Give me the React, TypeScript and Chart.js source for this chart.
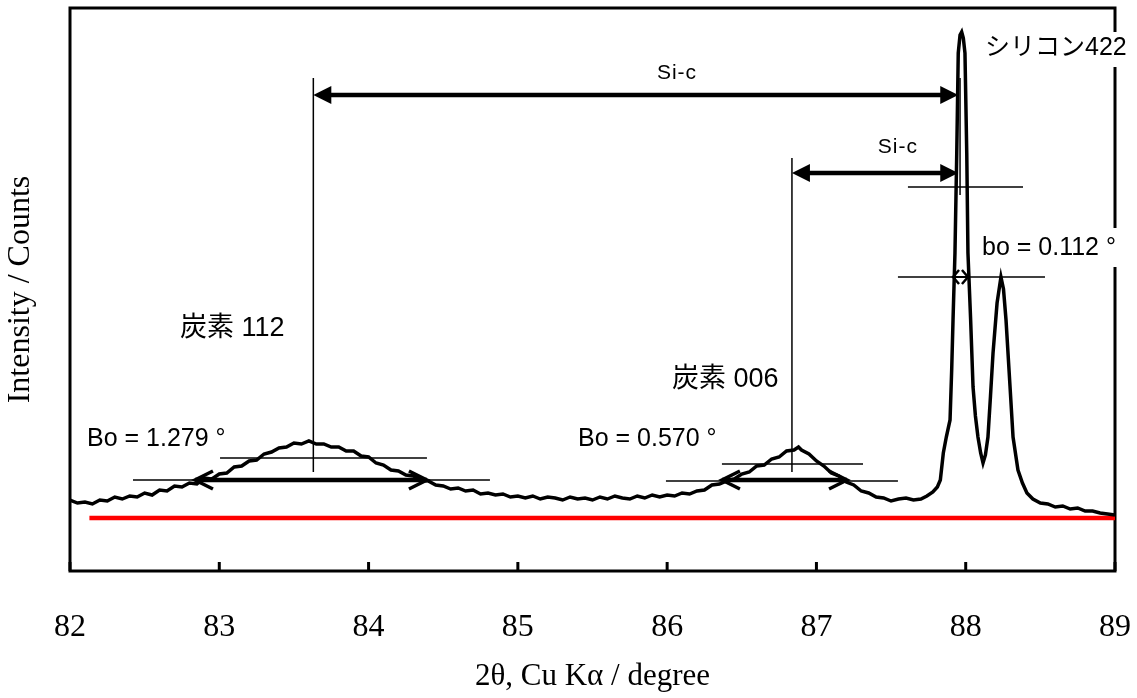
import React, { useEffect, useRef } from "react";
import { Chart, registerables } from "chart.js";

Chart.register(...registerables);

// ---- Data ----
const twoTheta = [
  82.00, 82.05, 82.10, 82.15, 82.20, 82.25, 82.30, 82.35, 82.40, 82.45,
  82.50, 82.55, 82.60, 82.65, 82.70, 82.75, 82.80, 82.85, 82.90, 82.95,
  83.00, 83.05, 83.10, 83.15, 83.20, 83.25, 83.30, 83.35, 83.40, 83.45,
  83.50, 83.55, 83.60, 83.65, 83.70, 83.75, 83.80, 83.85, 83.90, 83.95,
  84.00, 84.05, 84.10, 84.15, 84.20, 84.25, 84.30, 84.35, 84.40, 84.45,
  84.50, 84.55, 84.60, 84.65, 84.70, 84.75, 84.80, 84.85, 84.90, 84.95,
  85.00, 85.05, 85.10, 85.15, 85.20, 85.25, 85.30, 85.35, 85.40, 85.45,
  85.50, 85.55, 85.60, 85.65, 85.70, 85.75, 85.80, 85.85, 85.90, 85.95,
  86.00, 86.05, 86.10, 86.15, 86.20, 86.25, 86.30, 86.35, 86.40, 86.45,
  86.50, 86.55, 86.60, 86.65, 86.70, 86.75, 86.80, 86.85, 86.88, 86.90,
  86.95, 87.00, 87.05, 87.10, 87.15, 87.20, 87.25, 87.30, 87.35, 87.40,
  87.45, 87.50, 87.55, 87.60, 87.65, 87.70, 87.74, 87.78, 87.81, 87.83,
  87.85, 87.87, 87.895, 87.906, 87.915, 87.928, 87.94, 87.95, 87.962, 87.973,
  87.984, 87.995, 88.007, 88.015, 88.033, 88.049, 88.065, 88.082, 88.10, 88.116,
  88.132, 88.149, 88.166, 88.183, 88.21, 88.236, 88.253, 88.27, 88.297, 88.317,
  88.35, 88.38, 88.41, 88.45, 88.50, 88.55, 88.60, 88.65, 88.70, 88.75,
  88.80, 88.85, 88.90, 88.95, 89.00,
];

const intensity = [
  71, 68, 69, 67, 71, 70, 74, 72, 75, 74,
  78, 76, 81, 80, 85, 84, 88, 87, 93, 92,
  97, 98, 104, 105, 110, 111, 117, 119, 123, 124,
  128, 127, 130, 127, 127, 124, 124, 120, 120, 115,
  114, 108, 106, 101, 100, 96, 95, 91, 90, 86,
  85, 82, 83, 80, 81, 77, 78, 76, 77, 74,
  75, 73, 75, 72, 74, 73, 71, 74, 72, 73,
  71, 74, 72, 75, 73, 72, 75, 73, 76, 74,
  76, 75, 78, 77, 80, 81, 86, 87, 90, 92,
  97, 99, 105, 106, 112, 114, 120, 121, 124, 121,
  117, 110, 105, 98, 95, 89, 86, 80, 78, 74,
  73, 70, 72, 73, 71, 72, 75, 79, 84, 91,
  118, 134, 151, 201, 251, 318, 418, 518, 536, 539,
  533, 518, 418, 318, 251, 184, 155, 134, 118, 108,
  116, 134, 175, 218, 268, 294, 282, 251, 184, 134,
  101, 88, 78, 72, 68, 67, 64, 65, 62, 63,
  60, 60, 58, 57, 56,
];

const baselineTheta = [82.13, 89.0];
const baselineIntensity = [53, 53];

const xTickValues = [82, 83, 84, 85, 86, 87, 88, 89];

// ---- Annotations (data coordinates) ----
const thinVLines = [
  { x: 83.63, y1: 493, y2: 99 },
  { x: 86.836, y1: 413, y2: 99 },
  { x: 87.962, y1: 493, y2: 376 },
];
const thinHLines = [
  { x1: 87.613, x2: 88.384, y: 384 },
  { x1: 87.546, x2: 88.531, y: 294 },
  { x1: 82.422, x2: 84.813, y: 91 },
  { x1: 83.005, x2: 84.391, y: 113 },
  { x1: 85.992, x2: 87.546, y: 90 },
  { x1: 86.367, x2: 87.312, y: 107 },
];
const siArrows = [
  { x1: 83.63, x2: 87.95, y: 476 },
  { x1: 86.836, x2: 87.95, y: 398 },
];
const fwhmArrows = [
  { x1: 82.837, x2: 84.391, y: 91 },
  { x1: 86.367, x2: 87.205, y: 91 },
];
const tinyArrows = [{ x1: 87.915, x2: 88.015, y: 294 }];

const SANS = "'Liberation Sans', Arial, 'Noto Sans CJK JP', sans-serif";
const SERIF = "'Liberation Serif', 'Times New Roman', serif";

const labels = [
  { text: "Si-c", x: 86.066, y: 498, align: "center", size: 21, spacing: 1 },
  { text: "Si-c", x: 87.546, y: 424, align: "center", size: 21, spacing: 1 },
  { text: "シリコン422", x: 88.129, y: 523, align: "left", size: 25, bg: [-16, 19] },
  { text: "bo = 0.112 °", x: 88.109, y: 323, align: "left", size: 25, bg: [-20, 19] },
  { text: "炭素 112", x: 82.737, y: 242, align: "left", size: 27 },
  { text: "炭素 006", x: 86.032, y: 191, align: "left", size: 27 },
  { text: "Bo = 1.279 °", x: 82.114, y: 132, align: "left", size: 25 },
  { text: "Bo = 0.570 °", x: 85.403, y: 132, align: "left", size: 25 },
];

function filledHead(ctx: CanvasRenderingContext2D, tx: number, ty: number, dir: number, len: number, half: number) {
  ctx.beginPath();
  ctx.moveTo(tx, ty);
  ctx.lineTo(tx - dir * len, ty - half);
  ctx.lineTo(tx - dir * len, ty + half);
  ctx.closePath();
  ctx.fill();
}

function chevron(ctx: CanvasRenderingContext2D, tx: number, ty: number, dir: number, len: number, half: number) {
  ctx.beginPath();
  ctx.moveTo(tx - dir * len, ty - half);
  ctx.lineTo(tx, ty);
  ctx.lineTo(tx - dir * len, ty + half);
  ctx.stroke();
}

const framePlugin = {
  id: "frame",
  beforeDatasetsDraw(chart: any) {
    const { ctx, chartArea } = chart;
    const xs = chart.scales.x;
    ctx.save();
    ctx.strokeStyle = "#000";
    ctx.lineWidth = 3;
    ctx.strokeRect(chartArea.left, chartArea.top, chartArea.right - chartArea.left, chartArea.bottom - chartArea.top);
    xs.ticks.forEach((t: any) => {
      const px = xs.getPixelForValue(t.value);
      ctx.beginPath();
      ctx.moveTo(px, chartArea.bottom);
      ctx.lineTo(px, chartArea.bottom - 9);
      ctx.stroke();
    });
    ctx.restore();
  },
  afterDatasetsDraw(chart: any) {
    const { ctx } = chart;
    const X = (v: number) => chart.scales.x.getPixelForValue(v);
    const Y = (v: number) => chart.scales.y.getPixelForValue(v);
    ctx.save();
    ctx.strokeStyle = "#000";
    ctx.fillStyle = "#000";

    ctx.lineWidth = 1.5;
    thinVLines.forEach((l) => {
      ctx.beginPath();
      ctx.moveTo(X(l.x), Y(l.y1));
      ctx.lineTo(X(l.x), Y(l.y2));
      ctx.stroke();
    });
    thinHLines.forEach((l) => {
      ctx.beginPath();
      ctx.moveTo(X(l.x1), Y(l.y));
      ctx.lineTo(X(l.x2), Y(l.y));
      ctx.stroke();
    });

    siArrows.forEach((a) => {
      const x1 = X(a.x1), x2 = X(a.x2), y = Y(a.y);
      ctx.lineWidth = 4.5;
      ctx.beginPath();
      ctx.moveTo(x1 + 12, y);
      ctx.lineTo(x2 - 12, y);
      ctx.stroke();
      filledHead(ctx, x1, y, -1, 18, 9);
      filledHead(ctx, x2, y, 1, 18, 9);
    });

    fwhmArrows.forEach((a) => {
      const x1 = X(a.x1), x2 = X(a.x2), y = Y(a.y);
      ctx.lineWidth = 4.5;
      ctx.beginPath();
      ctx.moveTo(x1, y);
      ctx.lineTo(x2, y);
      ctx.stroke();
      ctx.lineWidth = 3.5;
      chevron(ctx, x1, y, -1, 18, 9);
      chevron(ctx, x2, y, 1, 18, 9);
    });

    tinyArrows.forEach((a) => {
      const x1 = X(a.x1), x2 = X(a.x2), y = Y(a.y);
      ctx.lineWidth = 2;
      ctx.beginPath();
      ctx.moveTo(x1, y);
      ctx.lineTo(x2, y);
      ctx.stroke();
      ctx.lineWidth = 2.5;
      chevron(ctx, x1, y, -1, 6, 7);
      chevron(ctx, x2, y, 1, 6, 7);
    });

    labels.forEach((l: any) => {
      ctx.font = `${l.size}px ${SANS}`;
      (ctx as any).letterSpacing = l.spacing ? `${l.spacing}px` : "0px";
      ctx.textAlign = l.align;
      ctx.textBaseline = "middle";
      const px = X(l.x), py = Y(l.y);
      if (l.bg) {
        const w = ctx.measureText(l.text).width;
        ctx.fillStyle = "#fff";
        const left = l.align === "center" ? px - w / 2 : px;
        ctx.fillRect(left - 3, py + l.bg[0], w + 8, l.bg[1] - l.bg[0]);
        ctx.fillStyle = "#000";
      }
      ctx.fillText(l.text, px, py);
    });
    (ctx as any).letterSpacing = "0px";
    ctx.restore();
  },
};

export default function App() {
  const ref = useRef<HTMLCanvasElement>(null);

  useEffect(() => {
    if (!ref.current) return;
    const chart = new Chart(ref.current, {
      type: "line",
      data: {
        datasets: [
          {
            label: "XRD",
            data: twoTheta.map((t, i) => ({ x: t, y: intensity[i] })),
            borderColor: "#000",
            borderWidth: 3.5,
            pointRadius: 0,
            tension: 0,
            fill: false,
          },
          {
            label: "baseline",
            data: baselineTheta.map((t, i) => ({ x: t, y: baselineIntensity[i] })),
            borderColor: "#ff0000",
            borderWidth: 4.5,
            pointRadius: 0,
            tension: 0,
            fill: false,
          },
        ],
      },
      options: {
        responsive: false,
        animation: false,
        devicePixelRatio: 1,
        layout: { padding: { top: 8, right: 22, left: 0, bottom: 0 } },
        plugins: {
          legend: { display: false },
          tooltip: { enabled: false },
        },
        scales: {
          x: {
            type: "linear",
            min: 82,
            max: 89,
            afterBuildTicks: (s: any) => {
              s.ticks = xTickValues.map((v) => ({ value: v }));
            },
            afterFit: (s: any) => {
              s.height = 127;
              s.paddingLeft = 0;
              s.paddingRight = 0;
            },
            grid: { display: false },
            border: { display: false },
            ticks: {
              color: "#000",
              padding: 29,
              maxRotation: 0,
              font: { family: SERIF, size: 32 },
              callback: (v: any) => String(v),
            },
            title: {
              display: true,
              text: "2θ, Cu Kα / degree",
              color: "#000",
              font: { family: SERIF, size: 31 },
              padding: { top: 0, bottom: 3 },
            },
          },
          y: {
            type: "linear",
            min: 0,
            max: 563,
            afterFit: (s: any) => {
              s.width = 70;
              s.paddingTop = 0;
              s.paddingBottom = 0;
            },
            grid: { display: false },
            border: { display: false },
            ticks: { display: false },
            title: {
              display: true,
              text: "Intensity / Counts",
              color: "#000",
              font: { family: SERIF, size: 32 },
              padding: { top: 1, bottom: 0 },
            },
          },
        },
      } as any,
      plugins: [framePlugin as any],
    });
    return () => chart.destroy();
  }, []);

  return (
    <div style={{ position: "fixed", left: 0, top: 0, width: 1137, height: 698, background: "#fff" }}>
      <canvas ref={ref} width={1137} height={698} style={{ width: 1137, height: 698, display: "block" }} />
    </div>
  );
}
